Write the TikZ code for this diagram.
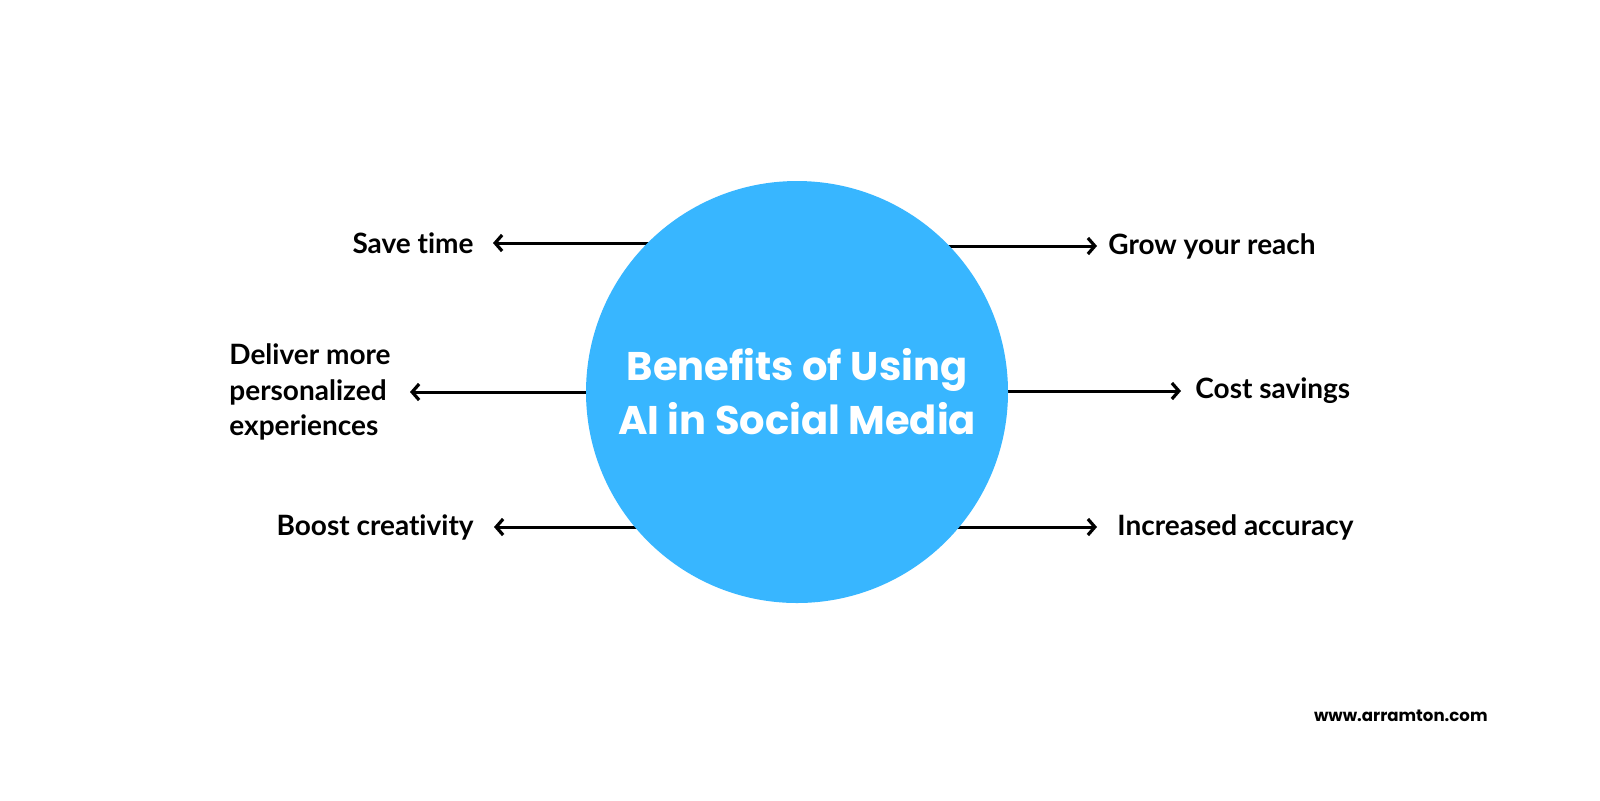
\documentclass[tikz,border=0pt]{standalone}
\usepackage{fontspec}
\setmainfont{Lato}[Ligatures=NoCommon]
\newfontfamily\titlefont{Poppins}
\usetikzlibrary{arrows.meta}
\definecolor{skyblue}{HTML}{38B6FF}
\begin{document}
\begin{tikzpicture}[x=0.5pt,y=-0.5pt,
  lab/.style={font=\fontsize{14}{17.75}\selectfont\bfseries, inner sep=0pt, text=black},
  arr/.style={-{Straight Barb[length=3.5pt,width=8pt,line width=1.6pt]}, line width=1.5pt, black}]
\fill[white] (0,0) rectangle (1600,800);
\coordinate (cc) at (797,392);
% arrow tips
\coordinate (t1) at (493,243);
\coordinate (t2) at (1097,246);
\coordinate (t3) at (410,392);
\coordinate (t4) at (1181,391);
\coordinate (t5) at (494,527);
\coordinate (t6) at (1097,527);
\draw[arr] (cc |- t1) -- (t1);
\draw[arr] (cc |- t2) -- (t2);
\draw[arr] (cc |- t3) -- (t3);
\draw[arr] (cc |- t4) -- (t4);
\draw[arr] (cc |- t5) -- (t5);
\draw[arr] (cc |- t6) -- (t6);
\node[circle, fill=skyblue, minimum size=211pt, inner sep=0pt,
  font=\titlefont\bfseries\fontsize{20}{27}\selectfont, text=white, align=center] (c) at (cc)
  {Benefits of Using\\AI in Social Media};
\node[lab, anchor=east] (sv) at ([xshift=-9.5pt]t1) {Save time};
\node[lab, anchor=west] (gr) at ([xshift=5.5pt]t2) {Grow your reach};
\node[lab, anchor=east, align=left] (dl) at ([xshift=-9.5pt]t3) {Deliver more\\personalized\\experiences};
\node[lab, anchor=west] (cs) at ([xshift=7pt]t4) {Cost savings};
\node[lab, anchor=east] (bc) at ([xshift=-10pt]t5) {Boost creativity};
\node[lab, anchor=west] (ia) at ([xshift=10pt]t6) {Increased accuracy};
\node[font=\titlefont\bfseries\fontsize{8.3}{10}\selectfont, anchor=east, inner sep=0pt] (url) at (1488,716) {www.arramton.com};
\pgfresetboundingbox
\useasboundingbox (0,0) rectangle (1600,800);
\end{tikzpicture}
\end{document}
